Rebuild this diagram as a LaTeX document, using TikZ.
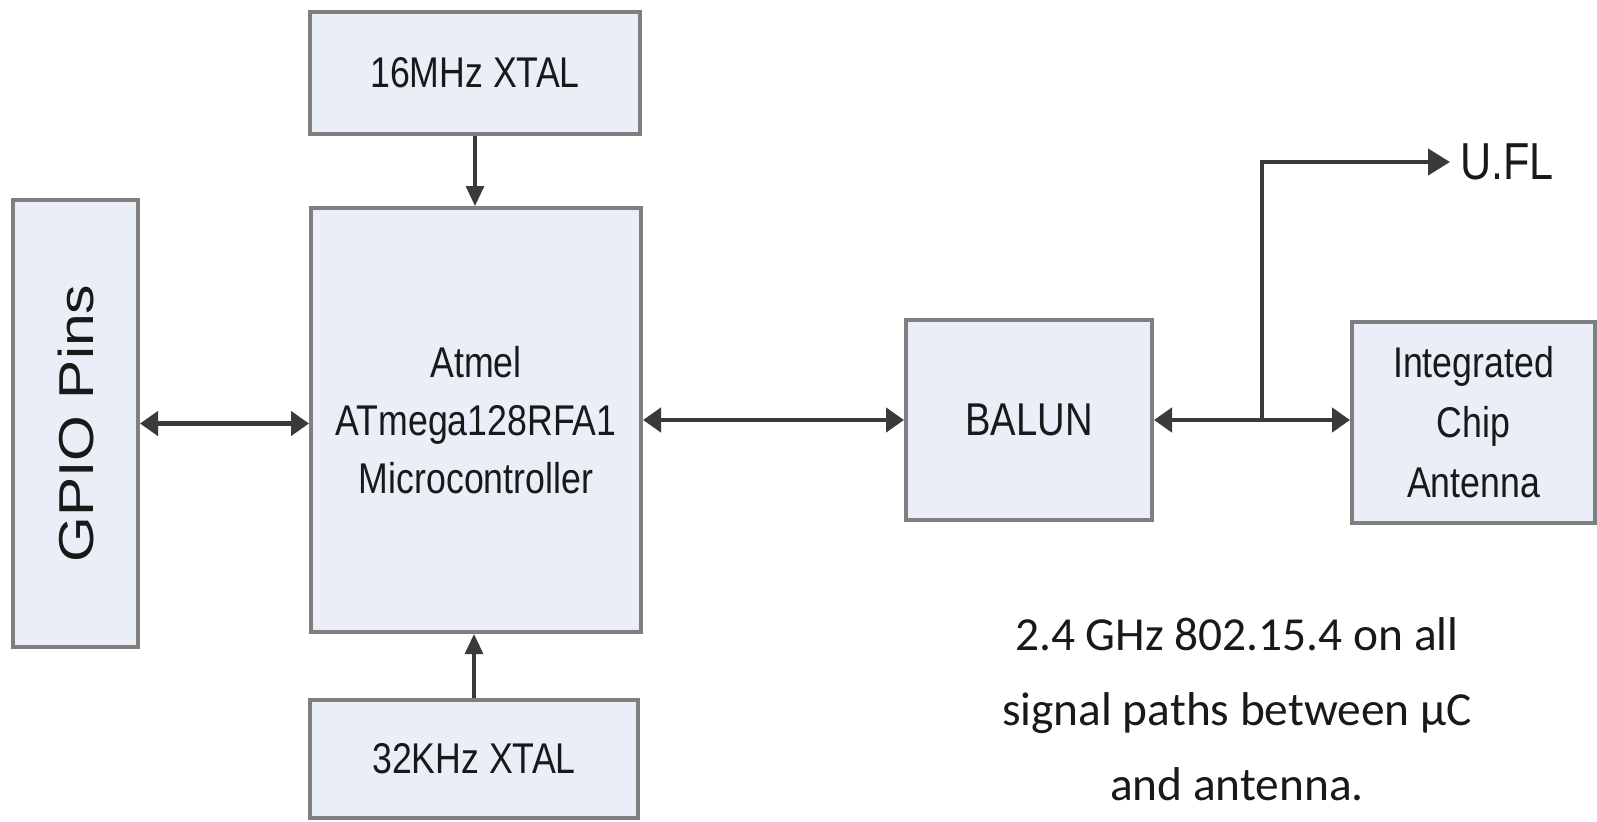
\documentclass[tikz,border=0pt]{standalone}
\usepackage{fontspec}
\setmainfont{Liberation Sans}[FakeStretch=0.83]
\newfontfamily\pinsfont{Liberation Sans}[FakeStretch=1.2]
\newfontfamily\notefont{Carlito}
\usetikzlibrary{arrows.meta}
\definecolor{boxfill}{HTML}{E9EEF7}
\definecolor{boxline}{HTML}{7F7F7F}
\definecolor{wire}{HTML}{3A3A3A}

\begin{document}
\begin{tikzpicture}[x=0.5pt,y=-0.5pt,
  every node/.style={font=\fontsize{21.5}{29}\selectfont,text=black!90},
  block/.style={draw=boxline,line width=2pt,fill=boxfill,inner sep=0pt,align=center},
  link/.style={draw=wire,line width=2.2pt,{Triangle[length=9pt,width=12pt]}-{Triangle[length=9pt,width=12pt]}},
  feed/.style={draw=wire,line width=1.6pt,-{Triangle[length=10pt,width=9pt]}}]
  \useasboundingbox (0,0) rectangle (1597,821);
  % blocks
  \node[block,minimum width=62.5pt,minimum height=223.5pt] (gpio) at (75.5,423.5)
    {\rotatebox{90}{\pinsfont\fontsize{24.5}{30}\selectfont GPIO Pins}};
  \node[block,minimum width=165pt,minimum height=212pt] (mcu) at (476,420)
    {Atmel\\ATmega128RFA1\\Microcontroller};
  \node[block,minimum width=165pt,minimum height=61pt] (xtal16) at (475,73) {16MHz XTAL};
  \node[block,minimum width=164pt,minimum height=59pt] (xtal32) at (474,759) {32KHz XTAL};
  \node[block,minimum width=123pt,minimum height=100pt,font=\fontsize{23}{29}\selectfont] (balun) at (1029,420) {BALUN};
  \node[block,minimum width=121.5pt,minimum height=100.5pt,font=\fontsize{21.5}{30}\selectfont] (ant) at (1473.5,422.5)
    {Integrated\\Chip\\Antenna};
  \node[anchor=west,inner sep=5pt,font=\fontsize{26}{30}\selectfont] (ufl) at (1450,162) {U.FL};
  \node[align=center,font=\notefont\fontsize{23.7}{37.5}\selectfont,text=black!90] (note) at (1237,709)
    {2.4 GHz 802.15.4 on all\\signal paths between µC\\and antenna.};
  % connectors
  \draw[link] (gpio) -- (gpio -| mcu.west);
  \draw[link] (mcu) -- (balun);
  \draw[link] (balun.east) -- (balun.east -| ant.west);
  \coordinate (tap) at (1262,420);
  \draw[draw=wire,line width=2.2pt,-{Triangle[length=11pt,width=13pt]}] (tap) |- (ufl.west);
  \draw[feed] (xtal16.south) -- (xtal16.south |- mcu.north);
  \draw[feed] (xtal32.north) -- (xtal32.north |- mcu.south);
\end{tikzpicture}
\end{document}
